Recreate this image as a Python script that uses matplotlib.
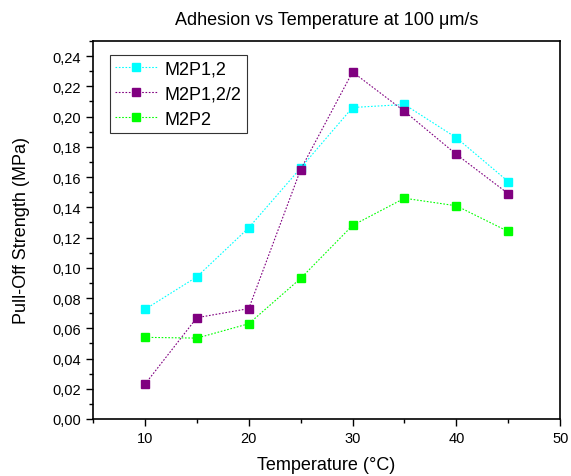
import matplotlib
matplotlib.use("Agg")
import matplotlib.pyplot as plt
from matplotlib.ticker import MultipleLocator, FuncFormatter

plt.rcParams['font.family'] = ['Liberation Sans', 'DejaVu Sans']

# data
temps = [10, 15, 20, 25, 30, 35, 40, 45]
m2p12 = [0.0725, 0.094, 0.1265, 0.166, 0.206, 0.208, 0.186, 0.157]
m2p12_2 = [0.023, 0.067, 0.073, 0.165, 0.2295, 0.2035, 0.175, 0.149]
m2p2 = [0.054, 0.0535, 0.063, 0.093, 0.128, 0.146, 0.141, 0.124]
labels = ["M2P1,2", "M2P1,2/2", "M2P2"]
colors = ["#00FFFF", "#800080", "#00FF00"]

fig = plt.figure(figsize=(5.71, 4.77), dpi=100)
ax = fig.add_axes([0.163, 0.1195, 0.818, 0.7925])

for ys, lab, c in zip([m2p12, m2p12_2, m2p2], labels, colors):
    ax.plot(temps, ys, color=c, ls=(0, (1.5, 1.5)), lw=0.8, marker='s', ms=6,
            mfc=c, mec=c, label=lab)

ax.set_xlim(5, 50)
ax.set_ylim(0, 0.25)
ax.xaxis.set_major_locator(MultipleLocator(10))
ax.xaxis.set_minor_locator(MultipleLocator(5))
ax.yaxis.set_major_locator(MultipleLocator(0.02))
ax.yaxis.set_minor_locator(MultipleLocator(0.01))
ax.yaxis.set_major_formatter(FuncFormatter(lambda v, p: f"{v:.2f}".replace('.', ',')))
ax.tick_params(which='major', direction='out', length=5, width=1, labelsize=10.5)
ax.tick_params(which='minor', direction='out', length=3, width=1)
for s in ax.spines.values():
    s.set_linewidth(1.2)

ax.set_xlabel("Temperature (°C)", fontsize=13, labelpad=8)
ax.set_ylabel("Pull-Off Strength (MPa)", fontsize=13, labelpad=16)
ax.set_title("Adhesion vs Temperature at 100 μm/s", fontsize=13, pad=12)

leg = ax.legend(loc='upper left', bbox_to_anchor=(0.036, 0.963), borderaxespad=0,
                fontsize=13, fancybox=False, edgecolor='#333333', framealpha=1,
                handlelength=2.3, borderpad=0.3, labelspacing=0.45, handletextpad=0.45,
                markerscale=0.95)
leg.get_frame().set_linewidth(0.8)

fig.savefig("out.png", dpi=100)
